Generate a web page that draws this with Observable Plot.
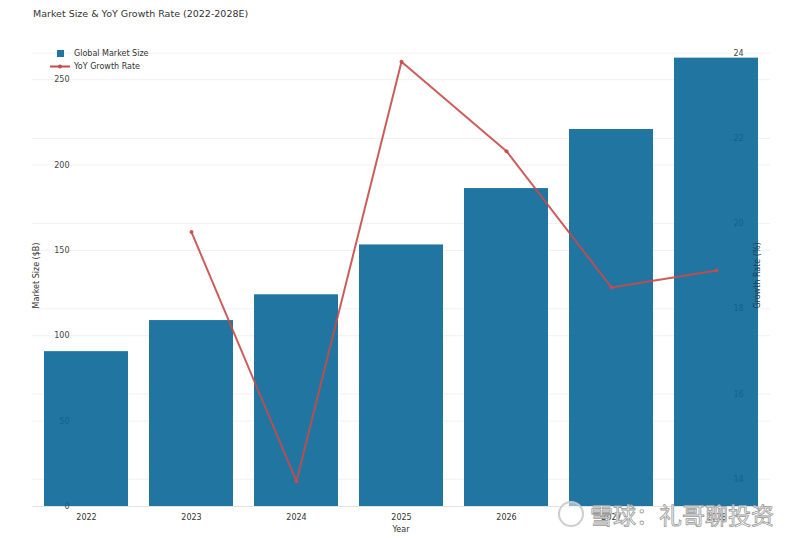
<!DOCTYPE html>
<html>
<head>
<meta charset="utf-8">
<script src="https://cdn.jsdelivr.net/npm/d3@7"></script>
<script src="https://cdn.jsdelivr.net/npm/@observablehq/plot@0.6"></script>
<style>
  body { margin: 0; background: #fff; font-family: "DejaVu Sans", sans-serif; }
  #wrap { position: relative; width: 800px; height: 538px; overflow: hidden; }
  #title { height: 20px; padding-top: 8px; padding-left: 33px; font-size: 9.5px; line-height: 11px; color: #333; }
  #wm { position: absolute; left: 558px; top: 497px; display: flex; align-items: center; font-family: "Noto Sans CJK SC", sans-serif; font-size: 23px; color: rgba(255,255,255,0.9); -webkit-text-stroke: 0.8px #9a9a9a; white-space: nowrap; }
  #wm .logo { width: 22px; height: 22px; border: 2px solid rgba(200,200,200,0.9); border-radius: 50%; margin-right: 6px; background: rgba(255,255,255,0.5); }
</style>
</head>
<body>
<div id="wrap">
  <div id="title">Market Size &amp; YoY Growth Rate (2022-2028E)</div>
  <div id="chart"></div>
  <div id="wm"><span class="logo"></span>雪球：礼哥聊投资</div>
</div>
<script>
const years = ["2022", "2023", "2024", "2025", "2026", "2027", "2028"];
const marketSize = [90.7, 108.9, 124.0, 153.2, 186.2, 220.8, 262.6];
const growthYears = ["2023", "2024", "2025", "2026", "2027", "2028"];
const growthRate = [19.8, 13.95, 23.8, 21.7, 18.5, 18.9];
const leftTicks = [0, 50, 100, 150, 200, 250];
const rightTicks = [14, 16, 18, 20, 22, 24];

const leftMax = 270;
const gMin = 13.36, gMax = 24.18;
const tr = g => (g - gMin) / (gMax - gMin) * leftMax;
const inv = v => v / leftMax * (gMax - gMin) + gMin;

const bars = years.map((y, i) => ({year: y, size: marketSize[i]}));
const growth = growthYears.map((y, i) => ({year: y, g: growthRate[i], v: tr(growthRate[i])}));

const barColor = "#086697";
const lineColor = "#c64b49";
const W = 800, H = 510, mL = 32, mR = 30, mT = 17, mB = 32;

const plot = Plot.plot({
  width: W, height: H,
  marginLeft: mL, marginRight: mR, marginTop: mT, marginBottom: mB,
  style: {fontFamily: "DejaVu Sans, sans-serif", fontSize: "8px", color: "#333", background: "#fff"},
  x: {type: "band", domain: years, paddingInner: 0.2, paddingOuter: 0.1, label: null},
  y: {domain: [0, leftMax], label: null},
  marks: [
    Plot.gridY(leftTicks.filter(d => d > 0), {stroke: "#f1f1f1", strokeOpacity: 1}),
    Plot.gridY(rightTicks.map(tr), {stroke: "#f1f1f1", strokeOpacity: 1}),
    Plot.ruleY([0], {stroke: "#e2e2e2"}),
    Plot.axisY({anchor: "left", ticks: leftTicks, tickSize: 0, tickPadding: 0, dx: 37, label: null, fill: "#444"}),
    Plot.axisY({anchor: "right", ticks: rightTicks.map(tr), tickFormat: d => String(Math.round(inv(d))), tickSize: 0, tickPadding: 0, dx: -37, label: null, fill: "#444"}),
    Plot.barY(bars, {x: "year", y: "size", fill: barColor, fillOpacity: 0.9}),
    Plot.line(growth, {x: "year", y: "v", stroke: lineColor, strokeWidth: 2, strokeOpacity: 0.9}),
    Plot.dot(growth, {x: "year", y: "v", r: 2, fill: lineColor, fillOpacity: 0.9}),
    Plot.axisX({tickSize: 0, tickPadding: 8, label: null, fill: "#333"})
  ]
});
document.getElementById("chart").appendChild(plot);

const svg = d3.select(plot);
const plotMidY = (mT + (H - mB)) / 2;
// axis titles
svg.append("text").attr("transform", `translate(39,${plotMidY}) rotate(-90)`)
  .attr("text-anchor", "middle").attr("font-size", 8).attr("fill", "#333").text("Market Size ($B)");
svg.append("text").attr("transform", `translate(760,${plotMidY}) rotate(-90)`)
  .attr("text-anchor", "middle").attr("font-size", 8).attr("fill", "#1d3f57").text("Growth Rate (%)");
svg.append("text").attr("x", (mL + W - mR) / 2).attr("y", 504)
  .attr("text-anchor", "middle").attr("font-size", 8).attr("fill", "#333").text("Year");
// legend
const lg = svg.append("g").attr("text-anchor", "start");
lg.append("rect").attr("x", 57).attr("y", 22).attr("width", 7).attr("height", 7).attr("fill", barColor).attr("fill-opacity", 0.9);
lg.append("text").attr("x", 74).attr("y", 25.5).attr("text-anchor", "start").attr("dominant-baseline", "middle").attr("font-size", 8).attr("fill", "#333").text("Global Market Size");
lg.append("line").attr("x1", 50).attr("x2", 70).attr("y1", 38.5).attr("y2", 38.5).attr("stroke", lineColor).attr("stroke-width", 2);
lg.append("circle").attr("cx", 60).attr("cy", 38.5).attr("r", 2).attr("fill", lineColor);
lg.append("text").attr("x", 74).attr("y", 38.5).attr("text-anchor", "start").attr("dominant-baseline", "middle").attr("font-size", 8).attr("fill", "#333").text("YoY Growth Rate");
</script>
</body>
</html>
